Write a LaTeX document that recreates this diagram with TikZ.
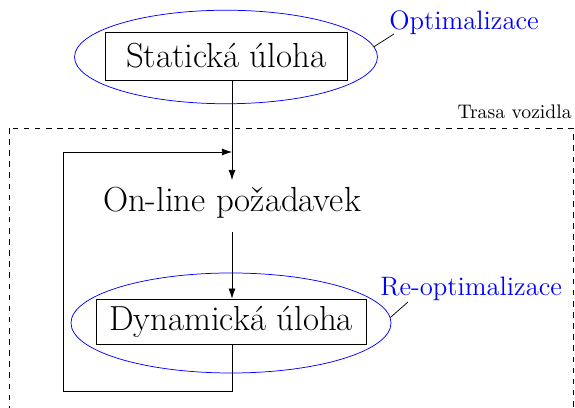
\documentclass[tikz,border=0pt]{standalone}
\usepackage{tikz}
\usetikzlibrary{positioning, shapes.geometric, arrows.meta}

\tikzset{
    ulohabox/.style={draw, rectangle, font=\fontsize{18.8}{22}\selectfont, inner sep=0pt},
    optell/.style={draw=blue, ellipse, inner sep=0pt},
    optlabel/.style={text=blue, font=\Large, inner sep=0pt},
    tip/.style={-{Latex[length=5.4pt,width=3.8pt]}},
}

\begin{document}
\begin{tikzpicture}[x=0.54pt,y=-0.54pt]
        \useasboundingbox (0,0) rectangle (575,408);

        % draw the route area
        \draw[dashed] (9.5,128) rectangle (573,430);
        \node[anchor=base east, inner sep=0pt, font=\fontsize{10.6}{13}\selectfont] (trasa) at (572,119) {Trasa vozidla};

        % static part
        \node[optell, minimum width=163.6pt, minimum height=50.5pt] (statell) at (226,57) {};
        \node[ulohabox, minimum width=130.7pt, minimum height=25.9pt] (stat) at (226,56) {Statická úloha};
        \node[optlabel, anchor=base west] (opt) at (389,30) {Optimalizace};
        \coordinate (optpin) at (394,34);
        \draw (statell.4) -- (optpin);

        % the request
        \node[font=\fontsize{18.8}{22}\selectfont, anchor=base, inner sep=0pt] (online) at (232,212) {On-line požadavek};
        \coordinate (merge) at (232,152);
        \coordinate (onlinetop) at (232,180);
        \coordinate (onlinebot) at (232,232);
        \draw[tip] (stat.south -| merge) -- (onlinetop);

        % dynamic part
        \node[optell, minimum width=172.8pt, minimum height=54pt] (dynell) at (231,323) {};
        \node[ulohabox, minimum width=145.8pt, minimum height=24.3pt] (dyn) at (231,321.5) {Dynamická úloha};
        \node[optlabel, anchor=base west] (reopt) at (380,296) {Re-optimalizace};
        \coordinate (reoptpin) at (408,302);
        \draw (dynell.2) -- (reoptpin);
        \draw[tip] (onlinebot) -- (dyn.north -| merge);

        % feedback loop
        \coordinate (loopbl) at (63,391);
        \draw[tip] (dyn.south -| merge) |- (loopbl) |- (merge);
    \end{tikzpicture}
\end{document}
